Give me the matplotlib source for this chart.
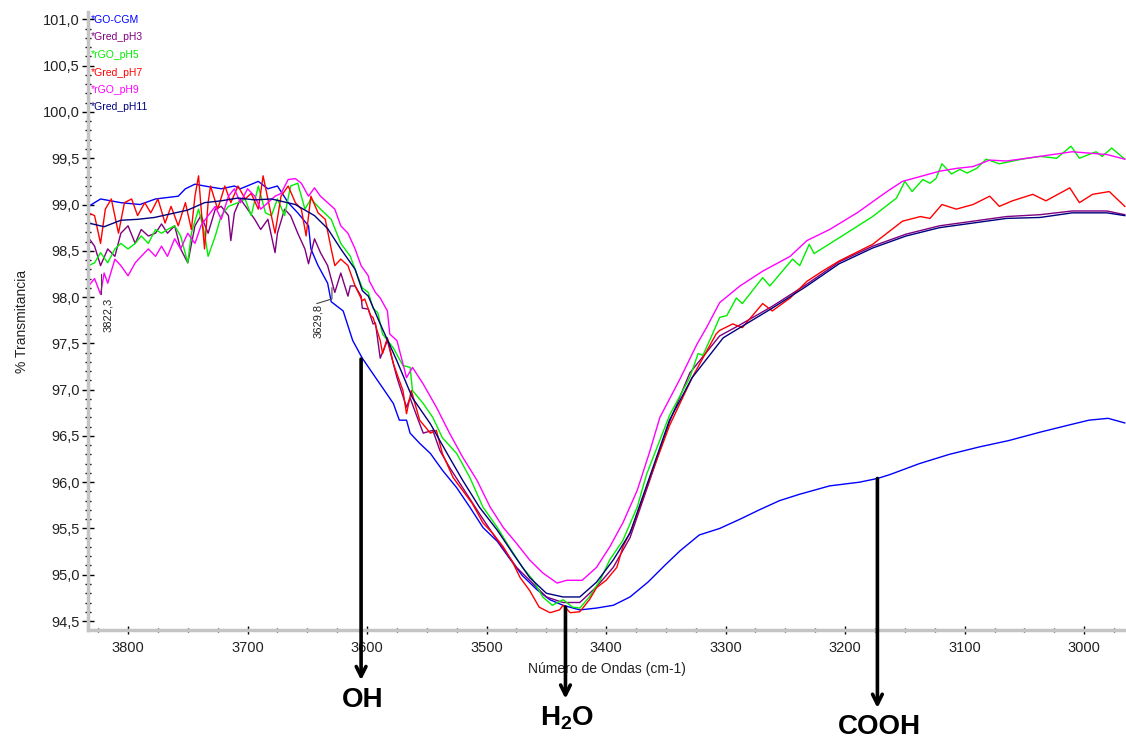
import numpy as np
import matplotlib
matplotlib.use("Agg")
import matplotlib.pyplot as plt
from matplotlib.ticker import MultipleLocator, FuncFormatter

plt.rcParams['font.family'] = ['Liberation Sans', 'DejaVu Sans']
plt.rcParams['mathtext.fontset'] = 'custom'
plt.rcParams['mathtext.bf'] = 'Liberation Sans:bold'
plt.rcParams['mathtext.rm'] = 'Liberation Sans'

# espectros FTIR (numero de onda, % transmitancia)
go_x = [3833, 3823, 3806, 3790, 3777, 3758, 3752, 3744, 3736, 3722, 3711, 3706, 3691, 3683, 3675,
        3666, 3658, 3649, 3647, 3641, 3633, 3630, 3620, 3612, 3604, 3595, 3587, 3578, 3573, 3567,
        3564, 3556, 3547, 3537, 3525, 3514, 3503, 3491, 3481, 3470, 3458, 3447, 3436, 3422, 3408,
        3394, 3380, 3365, 3351, 3338, 3322, 3305, 3288, 3272, 3255, 3238, 3213, 3188, 3173, 3163,
        3138, 3113, 3088, 3063, 3037, 3012, 2996, 2980, 2966]
go_y = [98.98, 99.06, 99.02, 99.0, 99.06, 99.09, 99.17, 99.22, 99.2, 99.17, 99.2, 99.17, 99.25, 99.17, 99.2,
        99.02, 98.91, 98.77, 98.52, 98.34, 98.15, 97.95, 97.85, 97.53, 97.34, 97.17, 97.02, 96.85, 96.67, 96.67,
        96.53, 96.42, 96.31, 96.13, 95.94, 95.73, 95.51, 95.36, 95.18, 94.99, 94.84, 94.73, 94.67, 94.62, 94.64,
        94.67, 94.76, 94.92, 95.1, 95.26, 95.43, 95.5, 95.6, 95.7, 95.8, 95.87, 95.96, 96.0, 96.04, 96.08,
        96.2, 96.3, 96.38, 96.45, 96.54, 96.62, 96.67, 96.69, 96.64]

ph3_x = [3833, 3828, 3823, 3817, 3811, 3806, 3800, 3794, 3789, 3783, 3777, 3772, 3767, 3761, 3756,
         3750, 3744, 3739, 3733, 3727, 3722, 3716, 3714, 3711, 3706, 3700, 3694, 3689, 3683, 3677,
         3675, 3669, 3664, 3658, 3652, 3649, 3644, 3639, 3633, 3627, 3622, 3616, 3614, 3610, 3605,
         3604, 3599, 3595, 3593, 3589, 3583, 3575, 3567, 3564, 3558, 3553, 3545, 3539, 3531, 3520,
         3506, 3491, 3483, 3475, 3464, 3450, 3436, 3422, 3408, 3394, 3380, 3364, 3347, 3330, 3305,
         3288, 3261, 3232, 3205, 3177, 3149, 3121, 3093, 3065, 3037, 3010, 2981, 2966]
ph3_y = [98.64, 98.55, 98.34, 98.52, 98.44, 98.69, 98.77, 98.58, 98.73, 98.66, 98.69, 98.79, 98.69, 98.77, 98.52,
         98.37, 98.77, 98.88, 98.69, 98.95, 98.98, 98.88, 98.61, 98.91, 99.06, 98.95, 98.84, 98.73, 98.84, 98.48,
         98.69, 98.95, 98.88, 98.69, 98.52, 98.36, 98.63, 98.48, 98.34, 98.05, 98.26, 98.01, 98.12, 98.12, 98.01,
         97.88, 97.87, 97.71, 97.72, 97.34, 97.53, 97.13, 96.81, 96.91, 96.70, 96.53, 96.56, 96.34, 96.16, 95.94,
         95.66, 95.37, 95.23, 95.08, 94.94, 94.76, 94.70, 94.70, 94.87, 95.08, 95.4, 96.0, 96.65, 97.18, 97.58,
         97.7, 97.9, 98.14, 98.38, 98.55, 98.68, 98.77, 98.82, 98.87, 98.89, 98.93, 98.93, 98.89]

ph5_x = [3833, 3828, 3823, 3817, 3811, 3806, 3800, 3794, 3789, 3783, 3777, 3772, 3767, 3761, 3756,
         3750, 3747, 3741, 3736, 3733, 3727, 3722, 3716, 3708, 3702, 3697, 3691, 3685, 3680, 3675,
         3669, 3664, 3658, 3652, 3647, 3639, 3630, 3622, 3614, 3608, 3604, 3599, 3595, 3591, 3587,
         3578, 3570, 3564, 3562, 3553, 3545, 3537, 3525, 3514, 3503, 3491, 3481, 3470, 3461, 3453,
         3445, 3436, 3428, 3422, 3414, 3405, 3397, 3386, 3374, 3366, 3347, 3330, 3323, 3319, 3311,
         3305, 3299, 3291, 3286, 3269, 3263, 3244, 3238, 3230, 3226, 3205, 3177, 3157, 3150, 3144,
         3135, 3129, 3124, 3119, 3111, 3104, 3098, 3090, 3082, 3071, 3052, 3037, 3023, 3011, 3004,
         2990, 2985, 2977, 2966]
ph5_y = [98.34, 98.37, 98.48, 98.37, 98.52, 98.58, 98.52, 98.58, 98.66, 98.58, 98.73, 98.69, 98.73, 98.77, 98.66,
         98.37, 98.69, 98.95, 98.69, 98.44, 98.66, 98.88, 98.98, 99.02, 99.06, 98.88, 99.20, 98.91, 98.88, 99.06,
         98.88, 99.20, 99.23, 98.95, 99.06, 98.95, 98.84, 98.58, 98.44, 98.23, 98.10, 98.05, 97.88, 97.83, 97.60,
         97.45, 97.26, 97.24, 96.99, 96.85, 96.70, 96.48, 96.31, 96.05, 95.73, 95.51, 95.30, 95.08, 94.94, 94.76,
         94.67, 94.73, 94.65, 94.64, 94.76, 94.94, 95.16, 95.37, 95.73, 96.09, 96.72, 97.13, 97.39, 97.37, 97.60,
         97.78, 97.80, 97.99, 97.93, 98.21, 98.12, 98.41, 98.34, 98.57, 98.47, 98.64, 98.87, 99.07, 99.25, 99.14,
         99.27, 99.23, 99.28, 99.44, 99.33, 99.38, 99.34, 99.39, 99.49, 99.44, 99.49, 99.52, 99.50, 99.63, 99.50,
         99.57, 99.52, 99.61, 99.49]

ph7_x = [3833, 3828, 3823, 3819, 3814, 3808, 3803, 3797, 3792, 3786, 3781, 3775, 3769, 3764, 3758,
         3752, 3747, 3744, 3741, 3739, 3736, 3733, 3731, 3725, 3719, 3714, 3708, 3702, 3697, 3691,
         3687, 3683, 3677, 3672, 3666, 3660, 3655, 3651, 3647, 3641, 3635, 3630, 3627, 3622, 3616,
         3610, 3604, 3602, 3597, 3595, 3589, 3587, 3583, 3578, 3570, 3567, 3563, 3556, 3547, 3542,
         3537, 3528, 3520, 3512, 3503, 3495, 3486, 3478, 3472, 3464, 3456, 3447, 3439, 3436, 3430,
         3422, 3414, 3408, 3400, 3391, 3386, 3378, 3369, 3364, 3347, 3328, 3308, 3305, 3294, 3286,
         3269, 3261, 3246, 3232, 3219, 3205, 3177, 3152, 3137, 3129, 3119, 3107, 3093, 3079, 3071,
         3060, 3043, 3032, 3012, 3004, 2993, 2979, 2966]
ph7_y = [98.91, 98.88, 98.58, 98.95, 99.06, 98.69, 99.02, 99.06, 98.88, 99.02, 98.91, 99.06, 98.80, 98.98, 98.77,
         99.02, 98.73, 99.09, 99.31, 98.98, 98.52, 99.02, 99.20, 98.95, 99.20, 99.02, 99.20, 99.06, 99.12, 98.95,
         99.31, 99.06, 98.69, 99.09, 99.20, 99.02, 98.95, 98.66, 99.09, 98.91, 98.84, 98.52, 98.34, 98.41, 98.34,
         98.12, 97.96, 97.98, 97.80, 97.78, 97.53, 97.39, 97.56, 97.28, 96.99, 96.74, 96.99, 96.67, 96.53, 96.56,
         96.31, 96.05, 95.91, 95.77, 95.56, 95.45, 95.30, 95.13, 94.97, 94.83, 94.65, 94.59, 94.62, 94.67, 94.59,
         94.60, 94.73, 94.86, 94.94, 95.08, 95.30, 95.51, 95.84, 96.02, 96.61, 97.13, 97.60, 97.64, 97.71, 97.67,
         97.93, 97.85, 97.99, 98.17, 98.28, 98.39, 98.57, 98.82, 98.87, 98.85, 99.0, 98.95, 99.0, 99.09, 98.98,
         99.04, 99.11, 99.04, 99.18, 99.02, 99.11, 99.14, 98.98]

ph9_x = [3833, 3828, 3823, 3820, 3817, 3811, 3806, 3800, 3794, 3789, 3783, 3777, 3772, 3767, 3761,
         3756, 3750, 3744, 3739, 3733, 3727, 3722, 3716, 3711, 3706, 3700, 3694, 3689, 3683, 3677,
         3672, 3666, 3660, 3655, 3649, 3644, 3639, 3633, 3627, 3622, 3616, 3610, 3605, 3599, 3598,
         3593, 3589, 3583, 3581, 3575, 3567, 3562, 3553, 3542, 3531, 3520, 3508, 3497, 3486, 3475,
         3464, 3453, 3441, 3433, 3420, 3408, 3397, 3386, 3374, 3364, 3355, 3338, 3324, 3316, 3305,
         3288, 3269, 3246, 3232, 3213, 3190, 3165, 3152, 3135, 3121, 3107, 3093, 3079, 3065, 3037,
         3010, 2981, 2966]
ph9_y = [98.12, 98.20, 98.03, 98.26, 98.15, 98.41, 98.34, 98.23, 98.37, 98.44, 98.52, 98.44, 98.55, 98.44, 98.63,
         98.52, 98.69, 98.58, 98.77, 98.88, 98.98, 98.84, 99.09, 99.17, 99.02, 99.17, 99.09, 98.95, 99.02, 99.09,
         99.12, 99.27, 99.28, 99.23, 99.09, 99.18, 99.09, 99.02, 98.95, 98.77, 98.69, 98.52, 98.34, 98.23, 98.17,
         98.05, 97.99, 97.85, 97.60, 97.53, 97.13, 97.24, 97.06, 96.81, 96.53, 96.27, 96.02, 95.73, 95.51, 95.34,
         95.16, 95.02, 94.91, 94.94, 94.94, 95.08, 95.30, 95.56, 95.91, 96.31, 96.7, 97.12, 97.49, 97.67, 97.94,
         98.12, 98.28, 98.44, 98.61, 98.73, 98.91, 99.14, 99.25, 99.31, 99.36, 99.39, 99.41, 99.48, 99.47, 99.52,
         99.57, 99.54, 99.49]

ph11_x = [3833, 3820, 3806, 3792, 3778, 3764, 3750, 3736, 3722, 3708, 3694, 3680, 3670, 3660, 3652,
          3644, 3633, 3622, 3610, 3604, 3599, 3589, 3575, 3562, 3547, 3533, 3520, 3506, 3491, 3478,
          3464, 3450, 3436, 3422, 3408, 3394, 3380, 3364, 3347, 3328, 3302, 3288, 3261, 3232, 3205,
          3177, 3149, 3121, 3093, 3065, 3037, 3010, 2981, 2966]
ph11_y = [98.80, 98.76, 98.83, 98.84, 98.86, 98.90, 98.94, 99.02, 99.04, 99.07, 99.05, 99.06, 99.03, 99.0, 98.94,
          98.88, 98.74, 98.52, 98.30, 98.07, 98.01, 97.71, 97.31, 96.91, 96.63, 96.31, 96.02, 95.73, 95.48, 95.23,
          94.97, 94.80, 94.76, 94.76, 94.92, 95.16, 95.45, 96.04, 96.67, 97.13, 97.56, 97.67, 97.88, 98.12, 98.36,
          98.53, 98.66, 98.75, 98.80, 98.85, 98.86, 98.91, 98.91, 98.88]

series = [
    ("*GO-CGM", go_x, go_y, "#0000ff"),
    ("*Gred_pH3", ph3_x, ph3_y, "#800080"),
    ("*rGO_pH5", ph5_x, ph5_y, "#00ee00"),
    ("*Gred_pH7", ph7_x, ph7_y, "#ff0000"),
    ("*rGO_pH9", ph9_x, ph9_y, "#ff00ff"),
    ("*Gred_pH11", ph11_x, ph11_y, "#000080"),
]

fig = plt.figure(figsize=(11.26, 7.40), dpi=100)
ax = fig.add_axes([88/1126, 110/740, 1038/1126, 618/740])

for name, xs, ys, col in series:
    ax.plot(xs, ys, color=col, lw=1.0)

ax.set_xlim(3833.5, 2965)
ax.set_ylim(94.403, 101.08)

ax.xaxis.set_major_locator(MultipleLocator(100))
ax.xaxis.set_minor_locator(MultipleLocator(25))
ax.yaxis.set_major_locator(MultipleLocator(0.5))
ax.yaxis.set_minor_locator(MultipleLocator(0.1))
ax.yaxis.set_major_formatter(FuncFormatter(lambda v, p: ("%.1f" % v).replace(".", ",")))
ax.xaxis.set_major_formatter(FuncFormatter(lambda v, p: "%d" % v))

for s in ["top", "right"]:
    ax.spines[s].set_visible(False)
for s in ["left", "bottom"]:
    ax.spines[s].set_color("#c4c4c4")
    ax.spines[s].set_linewidth(2.5)

ax.tick_params(axis="y", which="major", direction="inout", length=8, width=1, color="black",
               labelsize=10.5, labelcolor="#222222", pad=2)
ax.tick_params(axis="y", which="minor", direction="inout", length=4, width=1, color="black")
ax.tick_params(axis="x", which="major", direction="inout", length=6, width=1, color="black",
               labelsize=10.5, labelcolor="#222222", pad=5)
ax.tick_params(axis="x", which="minor", direction="inout", length=3, width=1, color="black")

ax.set_xlabel("Número de Ondas (cm-1)", fontsize=10, color="#222222", labelpad=5)
ax.set_ylabel("% Transmitancia", fontsize=10, color="#222222", labelpad=10)

# leyenda
for i, (name, xs, ys, col) in enumerate(series):
    fig.text(91/1126, 1 - (20 + i*17.5)/740, name, color=col, fontsize=7.5, va="center", ha="left")

# marcas de picos
ax.plot([3822.3, 3822.3], [98.25, 98.03], color="#444444", lw=0.8)
ax.text(3817, 97.99, "3822,3", rotation=90, fontsize=8, color="#222222", ha="center", va="top")
ax.plot([3629.4, 3629.4, 3642], [98.10, 97.98, 97.93], color="#444444", lw=0.8)
ax.text(3641, 97.93, "3629,8", rotation=90, fontsize=8, color="#222222", ha="center", va="top")

# flechas de grupos funcionales
arrows = [(3605, 97.33, 93.86), (3434, 94.65, 93.66), (3173, 96.04, 93.56)]
for xa, ytop, ybot in arrows:
    ax.annotate("", xy=(xa, ybot), xytext=(xa, ytop), annotation_clip=False,
                arrowprops=dict(arrowstyle="->,head_length=0.7,head_width=0.35", lw=2.6, color="black",
                                shrinkA=0, shrinkB=0))

ax.text(3604, 93.65, "OH", fontsize=20, fontweight="bold", ha="center", va="center", clip_on=False)
ax.text(3433, 93.45, r"$\mathbf{H_2O}$", fontsize=20, ha="center", va="center", clip_on=False)
ax.text(3171, 93.35, "COOH", fontsize=20, fontweight="bold", ha="center", va="center", clip_on=False)

fig.savefig("out.png", dpi=100)
